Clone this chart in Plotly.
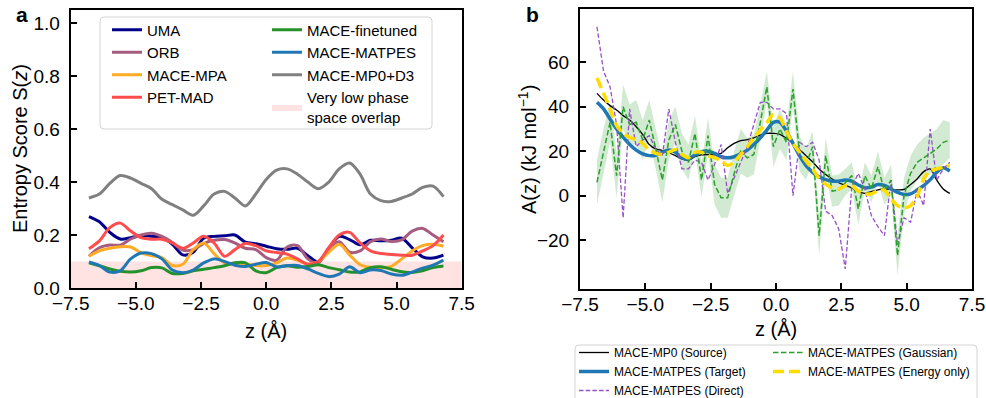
import plotly.graph_objects as go

# ---------------- data: panel a ----------------
z_left = [-6.8, -6.4, -6.0, -5.6, -5.2, -4.8, -4.4, -4.0, -3.6, -3.2, -2.8, -2.4, -2.0, -1.6,
          -1.2, -0.8, -0.4, 0.0, 0.4, 0.8, 1.2, 1.6, 2.0, 2.4, 2.8, 3.2, 3.6, 4.0, 4.4, 4.8,
          5.2, 5.6, 6.0, 6.4, 6.8]
uma = [0.27, 0.25, 0.21, 0.185, 0.19, 0.198, 0.195, 0.19, 0.165, 0.125, 0.135, 0.188, 0.195, 0.197,
       0.2, 0.173, 0.167, 0.158, 0.148, 0.146, 0.15, 0.122, 0.098, 0.15, 0.195, 0.183, 0.163, 0.18,
       0.178, 0.18, 0.188, 0.152, 0.118, 0.113, 0.124]
orb = [0.12, 0.152, 0.162, 0.162, 0.185, 0.2, 0.207, 0.195, 0.172, 0.143, 0.145, 0.168, 0.18, 0.183,
       0.17, 0.15, 0.145, 0.115, 0.105, 0.155, 0.16, 0.11, 0.095, 0.15, 0.175, 0.135, 0.14, 0.175,
       0.185, 0.176, 0.182, 0.215, 0.225, 0.2, 0.175]
mace_mpa = [0.12, 0.14, 0.15, 0.156, 0.155, 0.133, 0.122, 0.115, 0.085, 0.09, 0.145, 0.17, 0.13, 0.095,
            0.09, 0.09, 0.085, 0.085, 0.095, 0.113, 0.105, 0.09, 0.1, 0.135, 0.165, 0.125, 0.088, 0.078,
            0.077, 0.082, 0.11, 0.14, 0.16, 0.165, 0.158]
pet_mad = [0.148, 0.178, 0.228, 0.245, 0.215, 0.19, 0.184, 0.184, 0.17, 0.15, 0.17, 0.195, 0.17, 0.12,
           0.145, 0.168, 0.16, 0.14, 0.134, 0.128, 0.11, 0.09, 0.1, 0.152, 0.2, 0.21, 0.17, 0.14,
           0.13, 0.127, 0.124, 0.124, 0.14, 0.16, 0.2]
mace_finetuned = [0.095, 0.084, 0.072, 0.063, 0.06, 0.065, 0.077, 0.076, 0.055, 0.055, 0.065, 0.071, 0.077,
                  0.084, 0.095, 0.095, 0.065, 0.058, 0.077, 0.084, 0.078, 0.081, 0.088, 0.077, 0.069,
                  0.06, 0.061, 0.077, 0.08, 0.071, 0.061, 0.059, 0.065, 0.077, 0.083]
mace_matpes = [0.098, 0.085, 0.06, 0.065, 0.11, 0.132, 0.13, 0.11, 0.068, 0.058, 0.068, 0.095, 0.11, 0.1,
               0.086, 0.081, 0.09, 0.096, 0.08, 0.084, 0.085, 0.072, 0.055, 0.043, 0.052, 0.08, 0.058,
               0.068, 0.066, 0.053, 0.048, 0.06, 0.075, 0.086, 0.105]
mace_mp0_d3 = [0.34, 0.355, 0.395, 0.425, 0.415, 0.395, 0.375, 0.335, 0.315, 0.295, 0.275, 0.31, 0.355,
               0.365, 0.34, 0.31, 0.355, 0.41, 0.445, 0.45, 0.43, 0.40, 0.375, 0.40, 0.45, 0.472, 0.43,
               0.355, 0.33, 0.327, 0.34, 0.355, 0.38, 0.385, 0.345]
overlap_z = [-7.5, 7.5]
overlap_threshold = [0.1, 0.1]

left_series = [
    ("UMA", uma, "#00008b", "legend"),
    ("ORB", orb, "#a65c80", "legend"),
    ("MACE-MPA", mace_mpa, "#ffab26", "legend"),
    ("PET-MAD", pet_mad, "#ff4d4d", "legend"),
    ("MACE-finetuned", mace_finetuned, "#24912a", "legend2"),
    ("MACE-MATPES", mace_matpes, "#1f77b4", "legend2"),
    ("MACE-MP0+D3", mace_mp0_d3, "#808080", "legend2"),
]

# ---------------- data: panel b ----------------
z_right = [-6.85, -6.6, -6.35, -6.1, -5.85, -5.6, -5.35, -5.1, -4.85, -4.6, -4.35, -4.1, -3.85, -3.6,
           -3.35, -3.1, -2.85, -2.6, -2.35, -2.1, -1.85, -1.6, -1.35, -1.1, -0.85, -0.6, -0.35, -0.1,
           0.15, 0.4, 0.65, 0.9, 1.15, 1.4, 1.65, 1.9, 2.15, 2.4, 2.65, 2.9, 3.15, 3.4, 3.65, 3.9,
           4.15, 4.4, 4.65, 4.9, 5.15, 5.4, 5.65, 5.9, 6.15, 6.4, 6.65]
a_source = [46, 43, 40.5, 38.5, 36, 34, 31, 27.5, 23, 21, 20.3, 19.3, 18, 16.5, 16, 17.5, 18.3, 18.5,
            18.4, 19, 21.5, 23.5, 24.7, 25.2, 26, 27.2, 28, 28, 27.6, 25.8, 23.5, 20.7, 18, 15.2, 12,
            9.5, 7.5, 5.8, 4.7, 3.5, 1.8, 1, 1.8, 2.6, 3, 2.8, 2.6, 2.8, 5, 7.5, 10.8, 12, 7, 3, 1]
a_target = [42, 39, 34.5, 30, 26.3, 23, 20.5, 18.8, 18, 18.2, 19.5, 20.5, 19.5, 17, 16.5, 18.3, 19.8,
            20, 19, 17.5, 17, 17.5, 18.8, 20.5, 23, 26, 29.5, 33, 33, 29, 23.5, 18, 13.5, 10.5, 8.5,
            7.2, 6.5, 6.5, 7, 6.5, 4.8, 3.5, 3.8, 5, 4.6, 3, 1.5, 0.5, 0.8, 2.5, 4.5, 7.2, 10.5, 12.5, 11]
a_direct = [76, 56, 49, 32, -10, 39, 22, 25, 27, 21, 18, 39, 24, 12, 12, 16, 15, 7, 14, 23, 1, 8, 15,
            22, 32, 42, 42, 39, 39, 37, 0, 24, 22, 24, 16, -7, -9, -15, -33, 4, 10, 3, -9, -14, -18,
            7, -22, -10, -12, 2.5, -4.5, 30, 7, 12, 15]
a_gaussian = [6, 20, 33, 9, 40, 32, 33, 25, 34, 21, 7, 25, 32, 20, 15, 28, 7, 27, 5, -1, -1, 10, 20,
              17, 18.5, 33, 49, 22, 30, 24, 48, 19, 14, 22, -18, 18, 2, 2.5, 6, 9, -6, 9, 3, 13, 2, 7,
              -27, 0, 10, 15, 17, 19, 21, 24, 25]
a_gaussian_std = [10, 10, 9, 10, 10, 9, 10, 9, 9, 9, 10, 9, 8, 8, 8, 8, 8, 8, 9, 9, 9, 10, 10, 9, 9, 8,
                  7, 9, 9, 8, 8, 8, 7, 7, 9, 8, 7, 7, 6, 6, 7, 6, 6, 7, 6, 7, 9, 8, 8, 8, 9, 9, 9, 10, 8]
a_energy = [53, 46, 39, 31.5, 28, 26.2, 25.2, 23.5, 20.5, 19, 18.5, 19.5, 20.8, 18.5, 17, 19.5, 19.5,
            18, 17, 15.8, 13.5, 15.2, 18.5, 22, 26, 29.5, 33, 36.5, 35, 29, 23.5, 19.5, 15.5, 12, 7.8,
            5.2, 3.5, 3, 4.5, 4.5, 2, 0.8, 0.8, 2.2, 2.5, -1.5, -4.5, -5.6, -4.5, -0.5, 7.5, 11.2, 12,
            12.8, 13.5]

x_ticks = [-7.5, -5.0, -2.5, 0.0, 2.5, 5.0, 7.5]
s_ticks = [0.0, 0.2, 0.4, 0.6, 0.8, 1.0]
a_ticks = [-20, 0, 20, 40, 60]

FONT = "Liberation Sans, Arial, sans-serif"
W, H = 986, 398


def px(x):
    return x / W


def py(y):
    return 1 - y / H


fig = go.Figure()

# pink low-overlap band
fig.add_trace(go.Scatter(
    x=overlap_z, y=overlap_threshold, mode="lines", fill="tozeroy",
    fillcolor="rgba(255,0,0,0.11)", line=dict(width=0, color="rgba(255,0,0,0.11)"),
    name="Very low phase<br>space overlap", legend="legend2", legendrank=2000,
    xaxis="x", yaxis="y", hoverinfo="skip"))

for i, (name, vals, color, leg) in enumerate(left_series):
    fig.add_trace(go.Scatter(
        x=z_left, y=vals, mode="lines", name=name, legend=leg, legendrank=100 + i,
        line=dict(color=color, width=3, shape="spline", smoothing=0.9),
        xaxis="x", yaxis="y"))

# panel b: gaussian band
upper = [m + s for m, s in zip(a_gaussian, a_gaussian_std)]
lower = [m - s for m, s in zip(a_gaussian, a_gaussian_std)]
fig.add_trace(go.Scatter(x=z_right, y=lower, mode="lines", line=dict(width=0),
                         showlegend=False, xaxis="x2", yaxis="y2", hoverinfo="skip"))
fig.add_trace(go.Scatter(x=z_right, y=upper, mode="lines", line=dict(width=0),
                         fill="tonexty", fillcolor="rgba(44,160,44,0.22)",
                         showlegend=False, xaxis="x2", yaxis="y2", hoverinfo="skip"))

fig.add_trace(go.Scatter(x=z_right, y=a_source, mode="lines", name="MACE-MP0 (Source)",
                         line=dict(color="black", width=1.3, shape="spline", smoothing=0.8),
                         legend="legend3", legendrank=200, xaxis="x2", yaxis="y2"))
fig.add_trace(go.Scatter(x=z_right, y=a_target, mode="lines", name="MACE-MATPES (Target)",
                         line=dict(color="#1f77b4", width=3.5, shape="spline", smoothing=0.8),
                         legend="legend3", legendrank=201, xaxis="x2", yaxis="y2"))
fig.add_trace(go.Scatter(x=z_right, y=a_direct, mode="lines", name="MACE-MATPES (Direct)",
                         line=dict(color="#9650c8", width=1.3, dash="4.5px,2.2px"),
                         legend="legend3", legendrank=202, xaxis="x2", yaxis="y2"))
fig.add_trace(go.Scatter(x=z_right, y=a_gaussian, mode="lines", name="MACE-MATPES (Gaussian)",
                         line=dict(color="#2ca02c", width=1.5, dash="5.5px,2.5px"),
                         legend="legend4", legendrank=203, xaxis="x2", yaxis="y2"))
fig.add_trace(go.Scatter(x=z_right, y=a_energy, mode="lines", name="MACE-MATPES (Energy only)",
                         line=dict(color="#ffdd00", width=3.5, dash="11px,5px", shape="spline",
                                   smoothing=0.6),
                         legend="legend4", legendrank=204, xaxis="x2", yaxis="y2"))

axis_common = dict(showline=True, linecolor="black", linewidth=2, mirror=True,
                   ticks="inside", ticklen=6, tickwidth=2, tickcolor="black",
                   showgrid=False, zeroline=False, automargin=False,
                   tickfont=dict(family=FONT, size=19, color="black"))


# rounded legend frames
def rounded_rect(x0, y0, x1, y1, r):
    rx, ry = r / W, r / H
    X0, X1 = px(x0), px(x1)
    Y0, Y1 = py(y1), py(y0)
    return (f"M{X0 + rx},{Y0} L{X1 - rx},{Y0} Q{X1},{Y0} {X1},{Y0 + ry} "
            f"L{X1},{Y1 - ry} Q{X1},{Y1} {X1 - rx},{Y1} L{X0 + rx},{Y1} "
            f"Q{X0},{Y1} {X0},{Y1 - ry} L{X0},{Y0 + ry} Q{X0},{Y0} {X0 + rx},{Y0} Z")


shapes = [
    dict(type="path", xref="paper", yref="paper", path=rounded_rect(100, 17, 432, 129, 4),
         line=dict(color="#d4d4d4", width=1), fillcolor="rgba(255,255,255,0.8)", layer="above"),
    dict(type="path", xref="paper", yref="paper", path=rounded_rect(575, 345, 977, 420, 4),
         line=dict(color="#d4d4d4", width=1), fillcolor="white", layer="above"),
]

leg_common = dict(bgcolor="rgba(0,0,0,0)", borderwidth=0, xanchor="left", yanchor="top",
                  orientation="v", tracegroupgap=0, traceorder="normal", itemwidth=30)


def ann(text, x, y, size=20, angle=0):
    return dict(text=text, x=px(x), y=py(y), xref="paper", yref="paper", showarrow=False,
                xanchor="center", yanchor="middle", textangle=angle,
                font=dict(family=FONT, size=size, color="black"))


annotations = [
    ann("<b>a</b>", 22, 14, 21),
    ann("<b>b</b>", 532, 14, 21),
    ann("z (Å)", 266, 331),
    ann("z (Å)", 776, 329),
    ann("Entropy Score S(<i>z</i>)", 20, 149, 20, -90),
    ann("A(z) (kJ mol<sup>−1</sup>)", 527, 150, 20, -90),
]

fig.update_layout(
    width=W, height=H, margin=dict(l=0, r=0, t=0, b=0, autoexpand=False),
    paper_bgcolor="white", plot_bgcolor="white",
    font=dict(family=FONT, color="black"),
    xaxis=dict(domain=[px(70.7), px(461.7)], range=[-7.5, 7.5], tickvals=x_ticks,
               tickformat=".1f", anchor="y", ticklabelstandoff=-3, **axis_common),
    yaxis=dict(domain=[py(288), py(10)], range=[0, 1.05], tickvals=s_ticks,
               tickformat=".1f", anchor="x", ticklabelstandoff=5, **axis_common),
    xaxis2=dict(domain=[px(580), px(972)], range=[-7.5, 7.5], tickvals=x_ticks,
                tickformat=".1f", anchor="y2", ticklabelstandoff=-3, **axis_common),
    yaxis2=dict(domain=[py(288.7), py(9)], range=[-41.9, 84], tickvals=a_ticks,
                anchor="x2", ticklabelstandoff=5, **axis_common),
    legend=dict(x=px(107), y=py(13.5), font=dict(family=FONT, size=15, color="black"),
                **leg_common),
    legend2=dict(x=px(267), y=py(13.5), font=dict(family=FONT, size=15, color="black"),
                 **leg_common),
    legend3=dict(x=px(574), y=py(338), font=dict(family=FONT, size=12, color="black"),
                 **leg_common),
    legend4=dict(x=px(768), y=py(338), font=dict(family=FONT, size=12, color="black"),
                 **leg_common),
    shapes=shapes,
    annotations=annotations,
    showlegend=True,
)

fig.write_html("out.html")
